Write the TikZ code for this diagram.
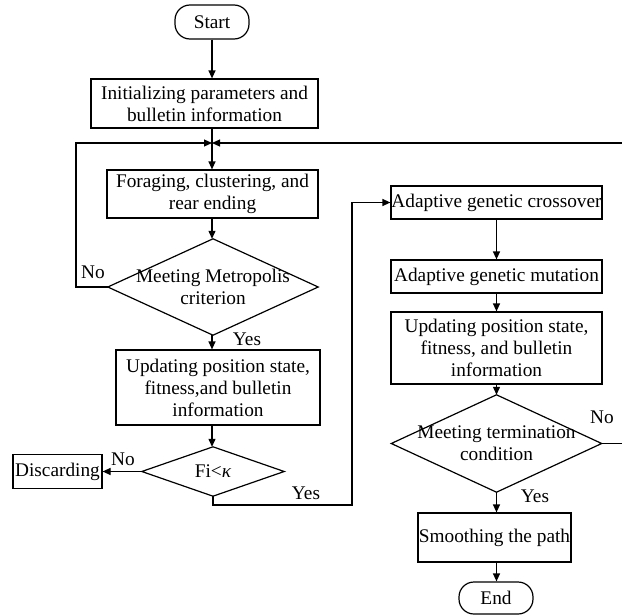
\documentclass[tikz,border=0pt]{standalone}
\usepackage{fontspec}
\setmainfont{Liberation Serif}
\usetikzlibrary{arrows.meta}
\begin{document}
\begin{tikzpicture}[x=1pt,y=-1pt,
  every node/.style={font=\fontsize{19.3}{22}\selectfont},
  box/.style={draw,line width=1.2pt,inner sep=0pt,align=center},
  pill/.style={box,rounded corners=15pt},
  dmd/.style={inner sep=0pt,align=center},
  lbl/.style={inner sep=0pt},
  arr/.style={line width=1.2pt,-{Triangle[length=8pt,width=7pt]}},
  ln/.style={line width=1.2pt}]
\useasboundingbox (0,0) rectangle (622,616);
% nodes
\node[pill,minimum width=74pt,minimum height=34pt] (start) at (212,22) {Start};
\node[box,minimum width=227pt,minimum height=49pt] (init) at (204.5,103.5) {Initializing parameters and\\bulletin information};
\coordinate (merge) at (212,143);
\node[box,minimum width=211pt,minimum height=48pt] (forage) at (212.5,194) {Foraging, clustering, and\\rear ending};
\node[dmd,minimum width=210pt,minimum height=96pt] (metro) at (213,287) {Meeting Metropolis\\criterion};
\draw[ln] (metro.north) -- (metro.east) -- (metro.south) -- (metro.west) -- cycle;
\node[box,minimum width=204pt,minimum height=75pt] (upd1) at (218,387.5) {Updating position state,\\fitness,and bulletin\\information};
\node[dmd,minimum width=142pt,minimum height=49pt] (fi) at (213,471.5) {Fi<\textit{κ}};
\draw[ln] (fi.north) -- (fi.east) -- (fi.south) -- (fi.west) -- cycle;
\node[box,minimum width=89pt,minimum height=34pt] (discard) at (57.5,471.5) {Discarding};
\node[box,minimum width=211pt,minimum height=33pt] (cross) at (496.5,202.5) {Adaptive genetic crossover};
\node[box,minimum width=211pt,minimum height=33pt] (mut) at (496.5,276.5) {Adaptive genetic mutation};
\node[box,minimum width=211pt,minimum height=72pt] (upd2) at (496.5,348) {Updating position state,\\fitness, and bulletin\\information};
\node[dmd,minimum width=210pt,minimum height=97pt] (term) at (496.5,443.5) {Meeting termination\\condition};
\draw[ln] (term.north) -- (term.east) -- (term.south) -- (term.west) -- cycle;
\node[box,minimum width=153pt,minimum height=49pt] (smooth) at (494.5,537.5) {Smoothing the path};
\node[pill,minimum width=74pt,minimum height=32pt] (end) at (496,598) {End};
% labels
\node[lbl] (no1) at (93,272) {No};
\node[lbl] (yes1) at (247,339) {Yes};
\node[lbl] (no2) at (123,459) {No};
\node[lbl] (yes2) at (306,493) {Yes};
\node[lbl] (no3) at (602,417) {No};
\node[lbl] (yes3) at (535,496) {Yes};
% coordinates
\coordinate (loopL) at (76,143);
\coordinate (yc) at (352,505);
\coordinate (rc1) at (630,443.5);
\coordinate (rc2) at (630,143);
% connectors
\draw[arr] (start.south) -- (start.south |- init.north);
\draw[ln] (merge |- init.south) -- (merge);
\draw[arr] (merge) -- (merge |- forage.north);
\draw[arr] (merge |- forage.south) -- (merge |- metro.north);
\draw[arr] (metro.west) -| (loopL) -- (merge);
\draw[arr] (merge |- metro.south) -- (merge |- upd1.north);
\draw[arr] (merge |- upd1.south) -- (merge |- fi.north);
\draw[arr] (fi.west) -- (discard.east);
\draw[arr] (fi.south) |- (yc) |- (cross.west);
\draw[arr] (cross.south) -- (mut.north);
\draw[arr] (mut.south) -- (upd2.north);
\draw[arr] (upd2.south) -- (term.north);
\draw[arr] (term.south) -- (term.south |- smooth.north);
\draw[arr] (term.south |- smooth.south) -- (term.south |- end.north);
\begin{scope}
\clip (0,0) rectangle (622,616);
\draw[arr] (term.east) -- (rc1) -- (rc2) -- (merge);
\end{scope}
\end{tikzpicture}
\end{document}
